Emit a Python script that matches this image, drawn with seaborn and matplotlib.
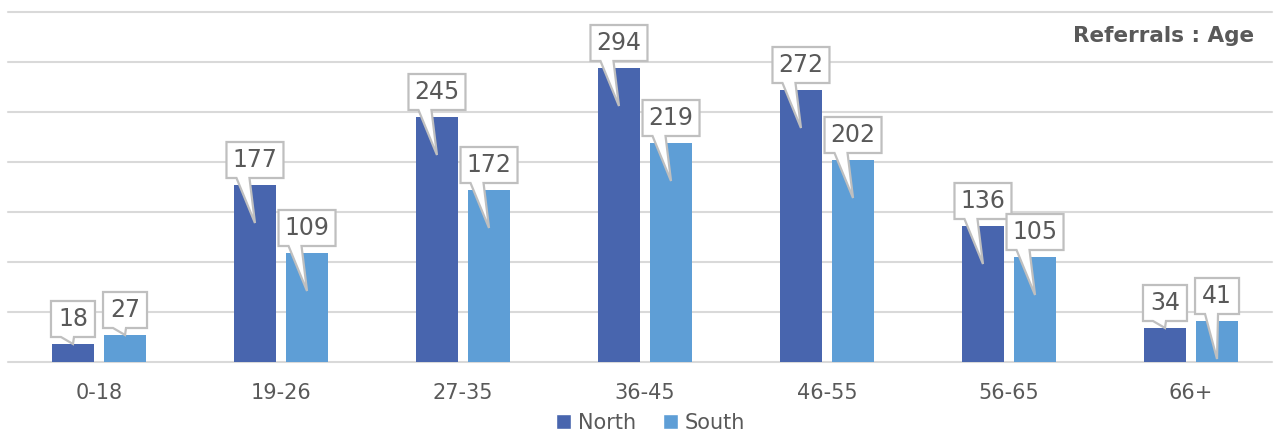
import matplotlib
matplotlib.use("Agg")
import matplotlib.pyplot as plt
from matplotlib.patches import Polygon, Patch
import numpy as np
import pandas as pd
import seaborn as sns

age_groups = ["0-18", "19-26", "27-35", "36-45", "46-55", "56-65", "66+"]
north = [18, 177, 245, 294, 272, 136, 34]
south = [27, 109, 172, 219, 202, 105, 41]
series_names = ["North", "South"]
title_text = "Referrals : Age"

NORTH_C = "#4865AE"
SOUTH_C = "#5E9ED6"
TEXT_C = "#595959"
GRID_C = "#D9D9D9"
BOX_EDGE = "#BFBFBF"

df = pd.DataFrame({
    "age": age_groups * 2,
    "value": north + south,
    "region": [series_names[0]] * len(age_groups) + [series_names[1]] * len(age_groups),
})

sns.set_theme(style="white")
plt.rcParams["font.family"] = ["DejaVu Sans"]

W, H = 1276, 432
fig = plt.figure(figsize=(W / 100, H / 100), dpi=100)
ax = fig.add_axes([8 / W, (H - 362) / H, (1272 - 8) / W, 350 / H])

sns.barplot(data=df, x="age", y="value", hue="region", order=age_groups,
            hue_order=series_names, palette=[NORTH_C, SOUTH_C],
            width=0.572, gap=0.21, saturation=1, ax=ax, legend=False,
            edgecolor="none", zorder=3)

ax.set_xlim(-0.5, 6.445)
ax.set_ylim(0, 350)
ax.set_yticks(np.arange(0, 351, 50))
ax.yaxis.grid(True, color=GRID_C, linewidth=1.5, zorder=0)
ax.set_axisbelow(True)
for gl in ax.get_ygridlines():
    gl.set_clip_on(False)
ax.set_yticklabels([])
ax.tick_params(axis="y", length=0)
ax.tick_params(axis="x", length=0, labelsize=15, labelcolor=TEXT_C, pad=15)
ax.set_xlabel("")
ax.set_ylabel("")
for s in ax.spines.values():
    s.set_visible(False)

fig.canvas.draw()
to_disp = ax.transData
to_data = ax.transData.inverted()

# callout labels: box above the bar, wedge pointing into the bar
for container in ax.containers:
    for bar in container.patches:
        val = bar.get_height()
        cx = bar.get_x() + bar.get_width() / 2
        px, ptop = to_disp.transform((cx, val))
        tip_val = val - 38 if val - 38 > 0 else val
        _, ptip = to_disp.transform((cx, tip_val))
        label = f"{int(round(val))}"
        bw = 57 if len(label) >= 3 else 44
        bh = 36
        bottom = ptop + 7
        top = bottom + bh
        left = px - bw / 2
        right = px + bw / 2
        b1 = left + 10
        b2 = left + 23
        pts_disp = [(left, bottom), (b1, bottom), (px, ptip), (b2, bottom),
                    (right, bottom), (right, top), (left, top)]
        pts = to_data.transform(pts_disp)
        ax.add_patch(Polygon(pts, closed=True, facecolor="white",
                             edgecolor=BOX_EDGE, linewidth=1.6, zorder=5,
                             clip_on=False))
        tx, ty = to_data.transform((px, bottom + bh / 2))
        ax.text(tx, ty, label, ha="center", va="center", fontsize=17,
                color=TEXT_C, zorder=6)

ax.text(0.986, 0.93, title_text, transform=ax.transAxes, ha="right",
        va="center", fontsize=15.5, fontweight="bold", color=TEXT_C)

handles = [Patch(facecolor=NORTH_C), Patch(facecolor=SOUTH_C)]
fig.legend(handles, series_names, loc="lower center", bbox_to_anchor=(0.51, -0.045),
           ncol=2, frameon=False, fontsize=15, handlelength=0.7,
           handleheight=0.7, handletextpad=0.35, columnspacing=1.3,
           labelcolor=TEXT_C)

fig.savefig("out.png", dpi=100)
